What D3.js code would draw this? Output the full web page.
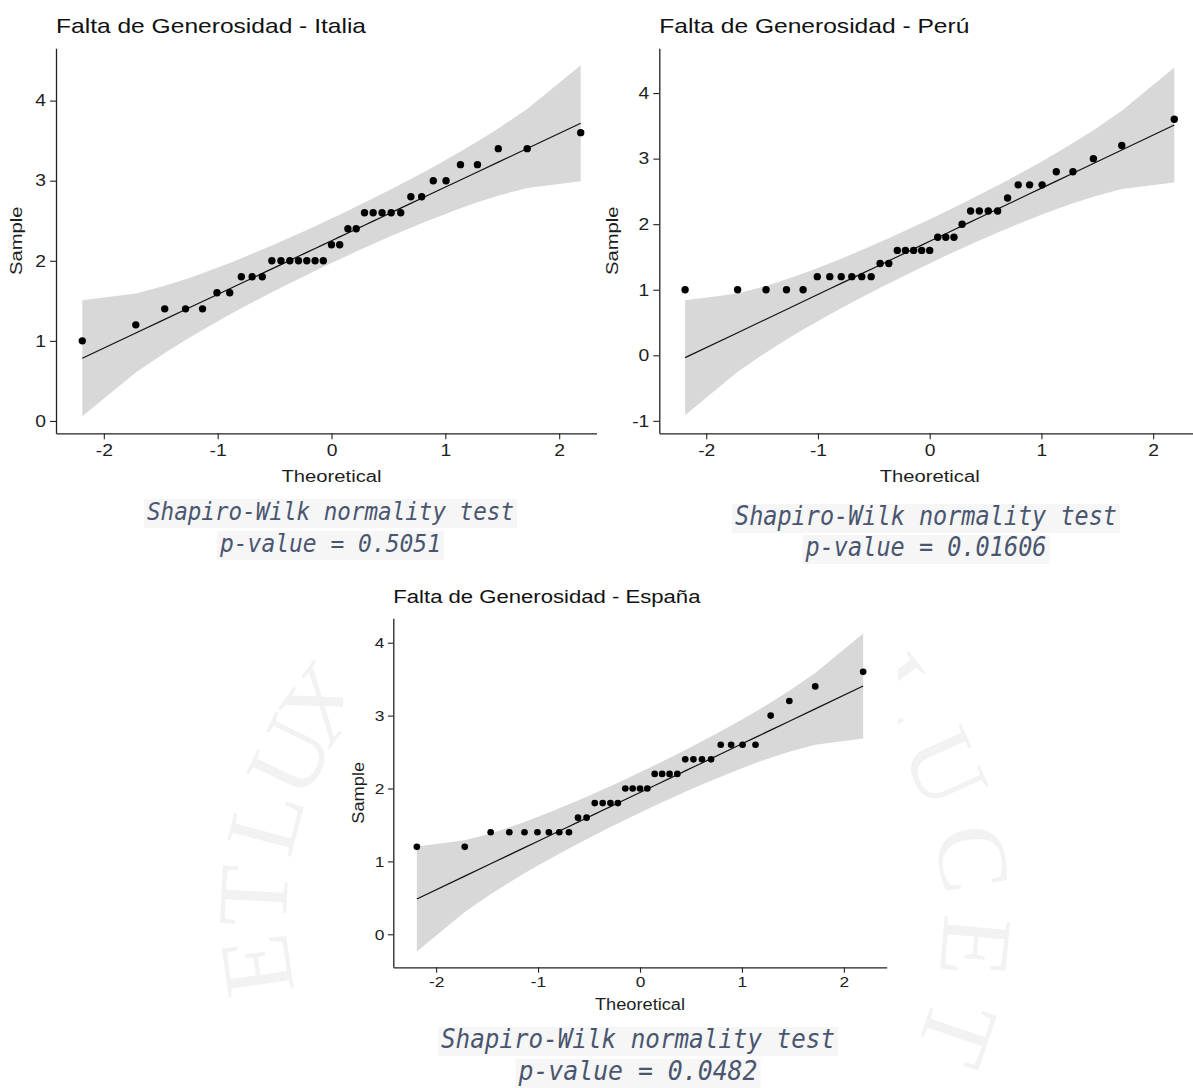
<!DOCTYPE html>
<html>
<head>
<meta charset="utf-8">
<script src="https://cdn.jsdelivr.net/npm/d3@7"></script>
<style>
  html, body { margin: 0; padding: 0; background: #ffffff; }
  svg { display: block; }
</style>
</head>
<body>
<svg id="chart" width="1193" height="1088"></svg>
<script>
// ---------------- DATA ----------------
// Theoretical normal quantiles (n = 35)
const theoretical = [-2.189, -1.719, -1.465, -1.282, -1.133, -1.006, -0.894, -0.792, -0.697, -0.608,
  -0.524, -0.444, -0.366, -0.290, -0.217, -0.144, -0.072, 0, 0.072, 0.144, 0.217, 0.290, 0.366,
  0.444, 0.524, 0.608, 0.697, 0.792, 0.894, 1.006, 1.133, 1.282, 1.465, 1.719, 2.189];

const italiaSample = [1.0, 1.2, 1.4, 1.4, 1.4, 1.6, 1.6, 1.8, 1.8, 1.8, 2.0, 2.0, 2.0, 2.0, 2.0, 2.0, 2.0,
  2.2, 2.2, 2.4, 2.4, 2.6, 2.6, 2.6, 2.6, 2.6, 2.8, 2.8, 3.0, 3.0, 3.2, 3.2, 3.4, 3.4, 3.6];
const peruSample = [1.0, 1.0, 1.0, 1.0, 1.0, 1.2, 1.2, 1.2, 1.2, 1.2, 1.2, 1.4, 1.4, 1.6, 1.6, 1.6, 1.6, 1.6,
  1.8, 1.8, 1.8, 2.0, 2.2, 2.2, 2.2, 2.2, 2.4, 2.6, 2.6, 2.6, 2.8, 2.8, 3.0, 3.2, 3.6];
const espanaSample = [1.2, 1.2, 1.4, 1.4, 1.4, 1.4, 1.4, 1.4, 1.4, 1.6, 1.6, 1.8, 1.8, 1.8, 1.8, 2.0, 2.0, 2.0, 2.0,
  2.2, 2.2, 2.2, 2.2, 2.4, 2.4, 2.4, 2.4, 2.6, 2.6, 2.6, 2.6, 3.0, 3.2, 3.4, 3.6];

// Reference line value at the first and last theoretical quantile
const italiaLine = [0.783, 3.717];
const peruLine = [-0.036, 3.513];
const espanaLine = [0.484, 3.406];

// Half-width of the 95% confidence band at each theoretical quantile
const italiaBand = [0.725, 0.494, 0.419, 0.379, 0.354, 0.336, 0.323, 0.312, 0.304, 0.298, 0.293, 0.288,
  0.285, 0.282, 0.281, 0.279, 0.278, 0.278, 0.278, 0.279, 0.281, 0.282, 0.285, 0.288, 0.293, 0.298,
  0.304, 0.312, 0.323, 0.336, 0.354, 0.379, 0.419, 0.494, 0.725];
const peruBand = [0.877, 0.597, 0.507, 0.459, 0.428, 0.406, 0.390, 0.378, 0.368, 0.360, 0.354, 0.349,
  0.345, 0.342, 0.340, 0.338, 0.337, 0.337, 0.337, 0.338, 0.340, 0.342, 0.345, 0.349, 0.354, 0.360,
  0.368, 0.378, 0.390, 0.406, 0.428, 0.459, 0.507, 0.597, 0.877];
const espanaBand = [0.721, 0.492, 0.417, 0.378, 0.352, 0.334, 0.321, 0.311, 0.303, 0.296, 0.291, 0.287,
  0.284, 0.281, 0.279, 0.278, 0.277, 0.277, 0.277, 0.278, 0.279, 0.281, 0.284, 0.287, 0.291, 0.296,
  0.303, 0.311, 0.321, 0.334, 0.352, 0.378, 0.417, 0.492, 0.721];

const panelTitles = ["Falta de Generosidad - Italia", "Falta de Generosidad - Perú", "Falta de Generosidad - España"];
const xTickValues = [-2, -1, 0, 1, 2];
const italiaYTicks = [0, 1, 2, 3, 4];
const peruYTicks = [-1, 0, 1, 2, 3, 4];
const espanaYTicks = [0, 1, 2, 3, 4];
const xAxisTitle = "Theoretical";
const yAxisTitle = "Sample";
const testName = "Shapiro-Wilk normality test";
const pValues = ["0.5051", "0.01606", "0.0482"];
// watermark letters and their angle on the seal (degrees, clockwise from 12 o'clock)
const watermarkLetters = ["E", "T", "L", "U", "X", "L", "U", "C", "E", "T"];
const watermarkAngles = [-98, -87, -75, -64, -54, 52, 66, 81, 95, 109];

// ---------------- LAYOUT ----------------
const svg = d3.select("#chart");
const FONT = "'Liberation Sans', Arial, Helvetica, sans-serif";
const MONO = "'DejaVu Sans Mono', 'Liberation Mono', monospace";
const WIDEN = 1.17;

// faint watermark (individual letters around a seal)
(function () {
  const cx = 615, cy = 915, r = 362;
  const wm = svg.append("g").attr("fill", "#f2f2f2")
    .style("font-family", "'Liberation Serif', 'DejaVu Serif', serif").style("font-size", "100px");
  watermarkLetters.forEach((ch, i) => {
    const a = watermarkAngles[i];
    const px = cx + r * Math.sin(a * Math.PI / 180), py = cy - r * Math.cos(a * Math.PI / 180);
    wm.append("text").attr("transform", `translate(${px},${py}) rotate(${a})`)
      .attr("text-anchor", "middle").attr("dominant-baseline", "central").text(ch);
  });
})();

const panels = [
  { sample: italiaSample, line: italiaLine, band: italiaBand, title: panelTitles[0], yTicks: italiaYTicks,
    xr: [56, 607], yd: [-0.154, 4.653], yr: [433.3, 48.3], clipRight: 597, s: 1,
    titleY: 33.3, xTitleY: 482, yTitleX: 22, bg: [0, 0, 600, 492],
    sw: { cx: 330.5, y1: 520, y2: 552, w1: 367, w2: 221, fs: 25 }, p: pValues[0] },
  { sample: peruSample, line: peruLine, band: peruBand, title: panelTitles[1], yTicks: peruYTicks,
    xr: [659.3, 1200.1], yd: [-1.19, 4.683], yr: [433.3, 48.3], clipRight: 1193, s: 1,
    titleY: 33.3, xTitleY: 482, yTitleX: 618, bg: [600, 0, 593, 492],
    sw: { cx: 926, y1: 525, y2: 556, w1: 382, w2: 241, fs: 26 }, p: pValues[1] },
  { sample: espanaSample, line: espanaLine, band: espanaBand, title: panelTitles[2], yTicks: espanaYTicks,
    xr: [393.3, 886.7], yd: [-0.453, 4.335], yr: [967.3, 618.3], clipRight: 1193, s: 0.9,
    titleY: 603.3, xTitleY: 1010, yTitleX: 364, bg: [343, 583, 555, 440],
    sw: { cx: 638, y1: 1048, y2: 1080, w1: 394, w2: 239, fs: 26.5 }, p: pValues[2] }
];

const widen = sel => sel.each(function () {
  const len = this.getComputedTextLength();
  d3.select(this).attr("textLength", len * WIDEN).attr("lengthAdjust", "spacingAndGlyphs");
});

panels.forEach((P, k) => {
  // white background behind the plot
  svg.append("rect").attr("x", P.bg[0]).attr("y", P.bg[1]).attr("width", P.bg[2]).attr("height", P.bg[3])
    .attr("fill", "#ffffff");

  const clipId = "clip" + k;
  svg.append("clipPath").attr("id", clipId).append("rect")
    .attr("x", 0).attr("y", 0).attr("width", P.clipRight).attr("height", 1088);
  const g = svg.append("g").attr("clip-path", `url(#${clipId})`);

  const x = d3.scaleLinear().domain([-2.42, 2.42]).range(P.xr);
  const y = d3.scaleLinear().domain(P.yd).range(P.yr);

  const z0 = theoretical[0], z1 = theoretical[theoretical.length - 1];
  const fit = z => P.line[0] + (z - z0) * (P.line[1] - P.line[0]) / (z1 - z0);
  const pts = theoretical.map((z, i) => ({ z, v: P.sample[i], f: fit(z), h: P.band[i] }));

  // confidence band
  g.append("path").datum(pts)
    .attr("d", d3.area().x(d => x(d.z)).y0(d => y(d.f - d.h)).y1(d => y(d.f + d.h)))
    .attr("fill", "#d8d8d8");

  // reference line
  g.append("path").datum(pts)
    .attr("d", d3.line().x(d => x(d.z)).y(d => y(d.f)))
    .attr("fill", "none").attr("stroke", "#111").attr("stroke-width", 1.2);

  // points
  g.selectAll("circle.pt").data(pts).enter().append("circle")
    .attr("cx", d => x(d.z)).attr("cy", d => y(d.v)).attr("r", 3.7 * P.s).attr("fill", "#000");

  const s = P.s;
  const tickFs = 16.5 * s, titleFs = 21 * s, axTitleFs = 17.3 * s;

  // axes
  const xAxis = g.append("g").attr("transform", `translate(0,${P.yr[0]})`)
    .call(d3.axisBottom(x).tickValues(xTickValues).tickFormat(d3.format("d")).tickSize(6 * s).tickSizeOuter(0).tickPadding(4.5 * s));
  const yAxis = g.append("g").attr("transform", `translate(${P.xr[0]},0)`)
    .call(d3.axisLeft(y).tickValues(P.yTicks).tickFormat(d3.format("d")).tickSize(6 * s).tickSizeOuter(0).tickPadding(4 * s));
  [xAxis, yAxis].forEach(a => {
    a.attr("font-family", null).attr("font-size", null);
    a.select(".domain").attr("stroke", "#222").attr("stroke-width", 1.3);
    a.selectAll(".tick line").attr("stroke", "#222").attr("stroke-width", 1.1);
    a.selectAll(".tick text").attr("fill", "#1e1e1e").style("font-family", FONT).style("font-size", tickFs + "px")
      .text(d => (d < 0 ? "-" + Math.abs(d) : d));
    widen(a.selectAll(".tick text"));
  });

  // title
  const t = g.append("text").attr("x", P.xr[0]).attr("y", P.titleY).attr("fill", "#111")
    .style("font-family", FONT).style("font-size", titleFs + "px").text(P.title);
  widen(t);

  // axis titles
  const xt = g.append("text").attr("x", x(0)).attr("y", P.xTitleY).attr("text-anchor", "middle").attr("fill", "#1e1e1e")
    .style("font-family", FONT).style("font-size", axTitleFs + "px").text(xAxisTitle);
  widen(xt);
  const yc = (P.yr[0] + P.yr[1]) / 2;
  const yt = g.append("text").attr("transform", `translate(${P.yTitleX},${yc}) rotate(-90)`)
    .attr("text-anchor", "middle").attr("fill", "#1e1e1e")
    .style("font-family", FONT).style("font-size", axTitleFs + "px").text(yAxisTitle);
  widen(yt);

  // Shapiro-Wilk annotation
  const sw = P.sw;
  const lines = [[testName, sw.y1, sw.w1], ["p-value = " + P.p, sw.y2, sw.w2]];
  lines.forEach(([txt, by, w]) => {
    svg.append("rect").attr("x", sw.cx - w / 2 - 3).attr("y", by - 21).attr("width", w + 6)
      .attr("height", 29).attr("fill", "#f6f6f6");
  });
  lines.forEach(([txt, by, w]) => {
    svg.append("text").attr("x", sw.cx).attr("y", by).attr("text-anchor", "middle")
      .attr("fill", "#4a5670").style("font-family", MONO).style("font-style", "italic")
      .style("font-size", sw.fs + "px").attr("textLength", w).attr("lengthAdjust", "spacingAndGlyphs").text(txt);
  });
});
</script>
</body>
</html>
